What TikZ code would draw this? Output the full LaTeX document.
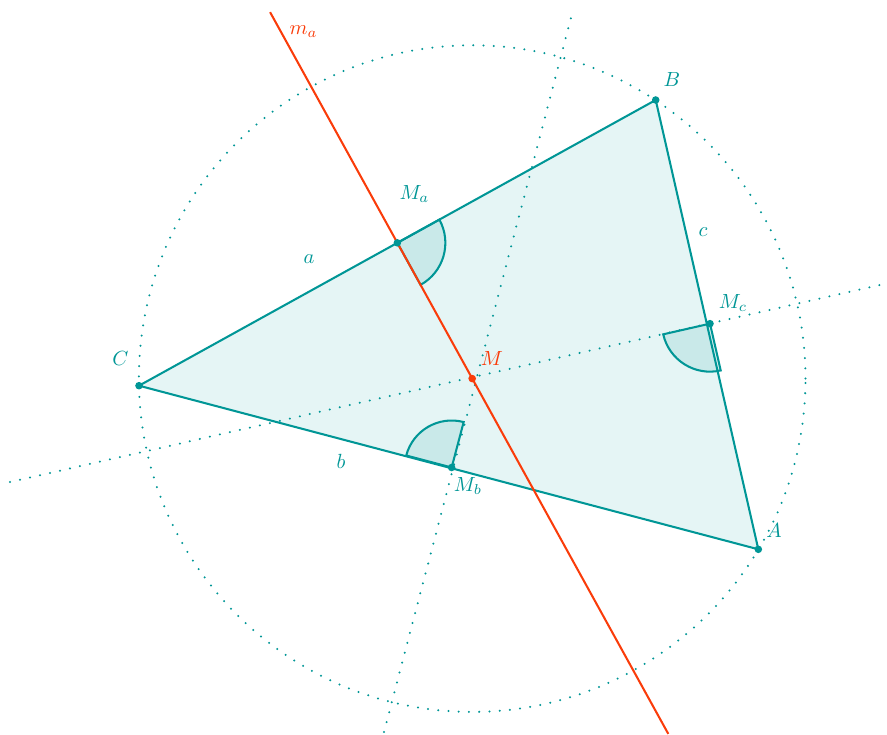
\documentclass[tikz,border=0pt]{standalone}
\usetikzlibrary{calc}
\definecolor{tcol}{RGB}{0,150,150}
\definecolor{rcol}{RGB}{250,60,10}
\begin{document}
\begin{tikzpicture}[x=0.488pt,y=0.488pt,
  side/.style={draw=tcol, line width=1pt, line join=round},
  dotline/.style={draw=tcol, line width=1.1pt, line cap=round, dash pattern=on 0pt off 5pt},
  sector/.style={draw=tcol, line width=1pt, fill=tcol, fill opacity=0.12},
  lbl/.style={text=tcol, inner sep=0pt},
]
\useasboundingbox (0,0) rectangle (887,-735);
% points
\coordinate (A) at (758.3,-549.3);
\coordinate (B) at (655.7,-100);
\coordinate (C) at (139,-385.7);
\coordinate (M) at (472.2,-378.6);
\coordinate (Ma) at ($(B)!0.5!(C)$);
\coordinate (Mb) at ($(A)!0.5!(C)+(3,0)$);
\coordinate (Mc) at ($(A)!0.5!(B)+(3,1)$);
% free ends of the lines
\coordinate (maT) at (270.1,-12.2);
\coordinate (maB) at (668.3,-733.9);
\coordinate (mbT) at (572,-14);
\coordinate (mbB) at (384,-732);
\coordinate (mcL) at (10,-482);
\coordinate (mcR) at (884,-284);
% triangle fill
\fill[tcol!10] (A) -- (B) -- (C) -- cycle;
% circumcircle and dotted bisectors
\draw[dotline] (M) circle[radius=333.3];
\draw[dotline] (mbB) -- (mbT);
\draw[dotline] (mcL) -- (mcR);
% sectors
\filldraw[sector] (Ma) -- ++(-61.06:48) arc[start angle=-61.06, end angle=28.94, radius=48] -- cycle;
\filldraw[sector] (Mb) -- ++(75.2:47) arc[start angle=75.2, end angle=165.2, radius=47] -- cycle;
\filldraw[sector] (Mc) -- ++(-167.14:48) arc[start angle=-167.14, end angle=-77.14, radius=48] -- cycle;
% triangle sides
\draw[side] (A) -- (B) -- (C) -- cycle;
% m_a
\draw[rcol, line width=1pt] (maT) -- (maB);
% dots
\foreach \p in {A,B,C,Ma,Mb,Mc} \fill[tcol] (\p) circle[radius=1.85pt];
\fill[rcol] (M) circle[radius=1.85pt];
% labels
\node[lbl] (lA) at (774,-530) {$A$};
\node[lbl] (lB) at (672,-80) {$B$};
\node[lbl] (lC) at (120.5,-359) {$C$};
\node[lbl] (lMa) at (414.5,-194) {$M_a$};
\node[lbl] (lMb) at (468,-486) {$M_b$};
\node[lbl] (lMc) at (733,-303) {$M_c$};
\node[lbl] (la) at (309,-259) {$a$};
\node[lbl] (lb) at (341,-461) {$b$};
\node[lbl] (lc) at (703,-232) {$c$};
\node[inner sep=0pt, text=rcol] (lM) at (492,-359) {$M$};
\node[inner sep=0pt, text=rcol] (lma) at (303.5,-32) {$m_a$};
\end{tikzpicture}
\end{document}
